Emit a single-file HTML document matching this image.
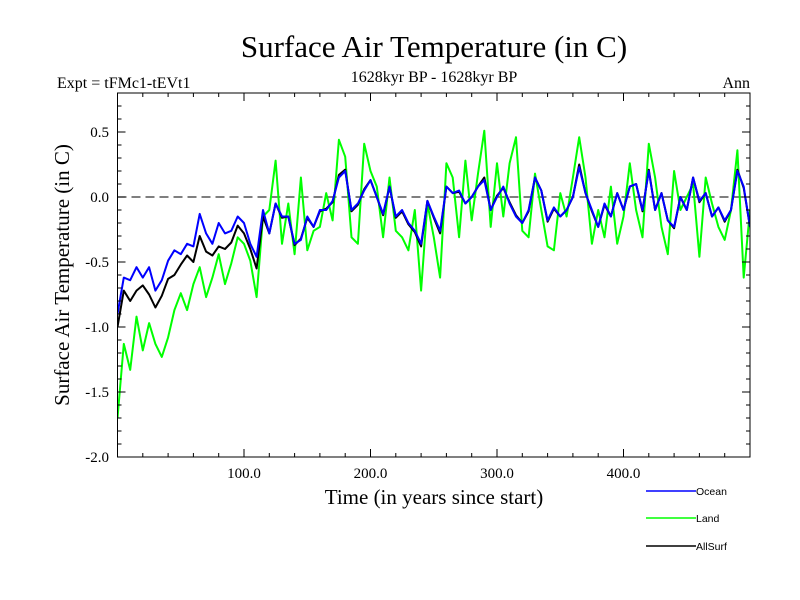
<!DOCTYPE html>
<html><head><meta charset="utf-8"><style>
body{margin:0;background:#fff}
svg{display:block}
text{font-family:"Liberation Serif",serif;fill:#000}
</style></head><body>
<svg id="c" width="800" height="600" viewBox="0 0 800 600">
<text x="434" y="57" font-size="31" text-anchor="middle">Surface Air Temperature (in C)</text>
<text x="434" y="82" font-size="16" text-anchor="middle">1628kyr BP - 1628kyr BP</text>
<text x="57" y="88" font-size="16">Expt = tFMc1-tEVt1</text>
<text x="750" y="88" font-size="16" text-anchor="end">Ann</text>
<text x="434" y="504" font-size="21" text-anchor="middle">Time (in years since start)</text>
<text transform="translate(69,275) rotate(-90)" font-size="21" text-anchor="middle">Surface Air Temperature (in C)</text>
<g id="plot"></g>
</svg>
<script>
const years=[];for(let y=0;y<=500;y+=5)years.push(y);
const ocean=[-0.9,-0.62,-0.64,-0.54,-0.62,-0.54,-0.72,-0.64,-0.49,-0.41,-0.44,-0.36,-0.38,-0.13,-0.28,-0.36,-0.2,-0.28,-0.26,-0.15,-0.2,-0.36,-0.46,-0.1,-0.28,-0.05,-0.15,-0.15,-0.36,-0.33,-0.15,-0.23,-0.1,-0.1,-0.03,
0.15,0.2,-0.1,-0.05,0.05,0.13,0,-0.13,0.08,-0.15,-0.1,-0.2,-0.26,-0.36,-0.03,-0.15,-0.26,0.08,0.03,0.05,-0.05,0,0.08,0.13,-0.1,0,0.08,-0.05,-0.15,-0.2,-0.1,0.15,0.05,-0.18,
-0.08,-0.15,-0.1,0,0.23,0.03,-0.1,-0.23,-0.05,-0.15,0.03,-0.1,0.08,0.1,-0.1,0.2,-0.1,0.03,-0.18,-0.23,0,-0.1,0.15,-0.03,0.03,-0.15,-0.08,-0.18,-0.1,0.2,0.08,-0.23];
const land=[-1.7,-1.13,-1.33,-0.92,-1.18,-0.97,-1.13,-1.23,-1.08,-0.87,-0.74,-0.87,-0.67,-0.54,-0.77,-0.62,-0.44,-0.67,-0.51,-0.31,-0.36,-0.49,-0.77,-0.15,-0.1,0.28,-0.36,-0.05,-0.44,0.15,-0.41,-0.26,-0.23,0.03,-0.18,
0.44,0.31,-0.31,-0.36,0.41,0.2,0.08,-0.31,0.15,-0.26,-0.31,-0.41,-0.1,-0.72,-0.05,-0.31,-0.62,0.26,0.15,-0.31,0.28,-0.18,0.18,0.51,-0.23,0.26,-0.15,0.26,0.46,-0.26,-0.31,0.18,-0.1,-0.38,
-0.41,0.03,-0.15,0.15,0.46,0.15,-0.36,-0.1,-0.31,0.08,-0.36,-0.15,0.26,-0.1,-0.31,0.41,0.15,-0.23,-0.44,0.2,-0.1,0,0.1,-0.46,0.15,-0.05,-0.23,-0.33,-0.1,0.36,-0.62,-0.1];
const allsurf=[-1.0,-0.72,-0.8,-0.72,-0.68,-0.75,-0.85,-0.76,-0.63,-0.6,-0.52,-0.45,-0.5,-0.3,-0.42,-0.45,-0.38,-0.4,-0.35,-0.22,-0.28,-0.4,-0.55,-0.15,-0.28,
-0.05,-0.16,-0.15,-0.37,-0.32,-0.16,-0.23,-0.11,-0.09,-0.04,0.17,0.21,-0.11,-0.06,0.06,0.13,0,-0.14,0.08,-0.16,-0.11,-0.21,-0.27,-0.38,-0.03,-0.16,-0.28,0.08,0.03,0.04,-0.05,0,0.08,0.15,-0.1,0.01,0.07,-0.04,-0.14,-0.2,-0.11,0.15,0.05,-0.19,
-0.09,-0.15,-0.1,0,0.25,0.03,-0.11,-0.23,-0.06,-0.15,0.03,-0.1,0.08,0.1,-0.11,0.21,-0.1,0.03,-0.18,-0.24,0,-0.1,0.15,-0.04,0.03,-0.15,-0.08,-0.19,-0.1,0.21,0.07,-0.23];
const xTickLabels=["100.0","200.0","300.0","400.0"];
const xTickVals=[100,200,300,400];
const yTickLabels=["-2.0","-1.5","-1.0","-0.5","0.0","0.5"];
const yTickVals=[-2,-1.5,-1,-0.5,0,0.5];

const L=117.5,R=750,T=93,B=457,X0=0,X1=500,Y0=-2,Y1=0.8;
const sx=v=>L+(v-X0)/(X1-X0)*(R-L);
const sy=v=>B-(v-Y0)/(Y1-Y0)*(B-T);
const NS="http://www.w3.org/2000/svg";
const g=document.getElementById('plot');
function mk(t,a,p){const e=document.createElementNS(NS,t);for(const k in a)e.setAttribute(k,a[k]);(p||g).appendChild(e);return e;}

const clip=mk('clipPath',{id:'pc'});mk('rect',{x:L,y:T,width:R-L,height:B-T},clip);

const zl=mk('line',{x1:L,x2:R,y1:sy(0),y2:sy(0),stroke:'#333','stroke-width':1.2,'stroke-dasharray':'9,5'});



function series(vals,color,name){
  const d=vals.map((v,i)=>(i?'L':'M')+sx(years[i]).toFixed(1)+','+sy(v).toFixed(1)).join('');
  const p=mk('path',{d:d,fill:'none',stroke:color,'stroke-width':2,'stroke-linejoin':'round','clip-path':'url(#pc)'});
  
  
}
series(land,'#00ff00','land-line');
series(allsurf,'#000000','allsurf-line');
series(ocean,'#0000ff','ocean-line');

const fr=mk('rect',{x:L,y:T,width:R-L,height:B-T,fill:'none',stroke:'#000','stroke-width':1});



for(let v=20;v<500;v+=20){const maj=v%100===0,len=maj?8:4;
  mk('line',{x1:sx(v),x2:sx(v),y1:B,y2:B-len,stroke:'#000'});
  mk('line',{x1:sx(v),x2:sx(v),y1:T,y2:T+len,stroke:'#000'});}
for(let k=-19;k<=7;k++){const v=k/10,maj=k%5===0,len=maj?8:4;
  mk('line',{x1:L,x2:L+len,y1:sy(v),y2:sy(v),stroke:'#000'});
  mk('line',{x1:R,x2:R-len,y1:sy(v),y2:sy(v),stroke:'#000'});}
xTickLabels.forEach((s,i)=>{const t=mk('text',{x:sx(xTickVals[i]),y:478,'font-size':15,'text-anchor':'middle'});t.textContent=s;
  
  });
yTickLabels.forEach((s,i)=>{const t=mk('text',{x:109,y:sy(yTickVals[i])+5,'font-size':15,'text-anchor':'end'});t.textContent=s;
  
  });

const leg=[['Ocean','#0000ff',491],['Land','#00ff00',518],['AllSurf','#000000',546]];
leg.forEach(e=>{const gg=mk('g',{});
  
  
  mk('line',{x1:646,x2:696,y1:e[2],y2:e[2],stroke:e[1],'stroke-width':1.5},gg);
  const t=mk('text',{x:696,y:e[2]+4,'font-size':10.5,style:'font-family:"Liberation Sans",sans-serif'},gg);t.textContent=e[0];});
</script>
</body></html>
